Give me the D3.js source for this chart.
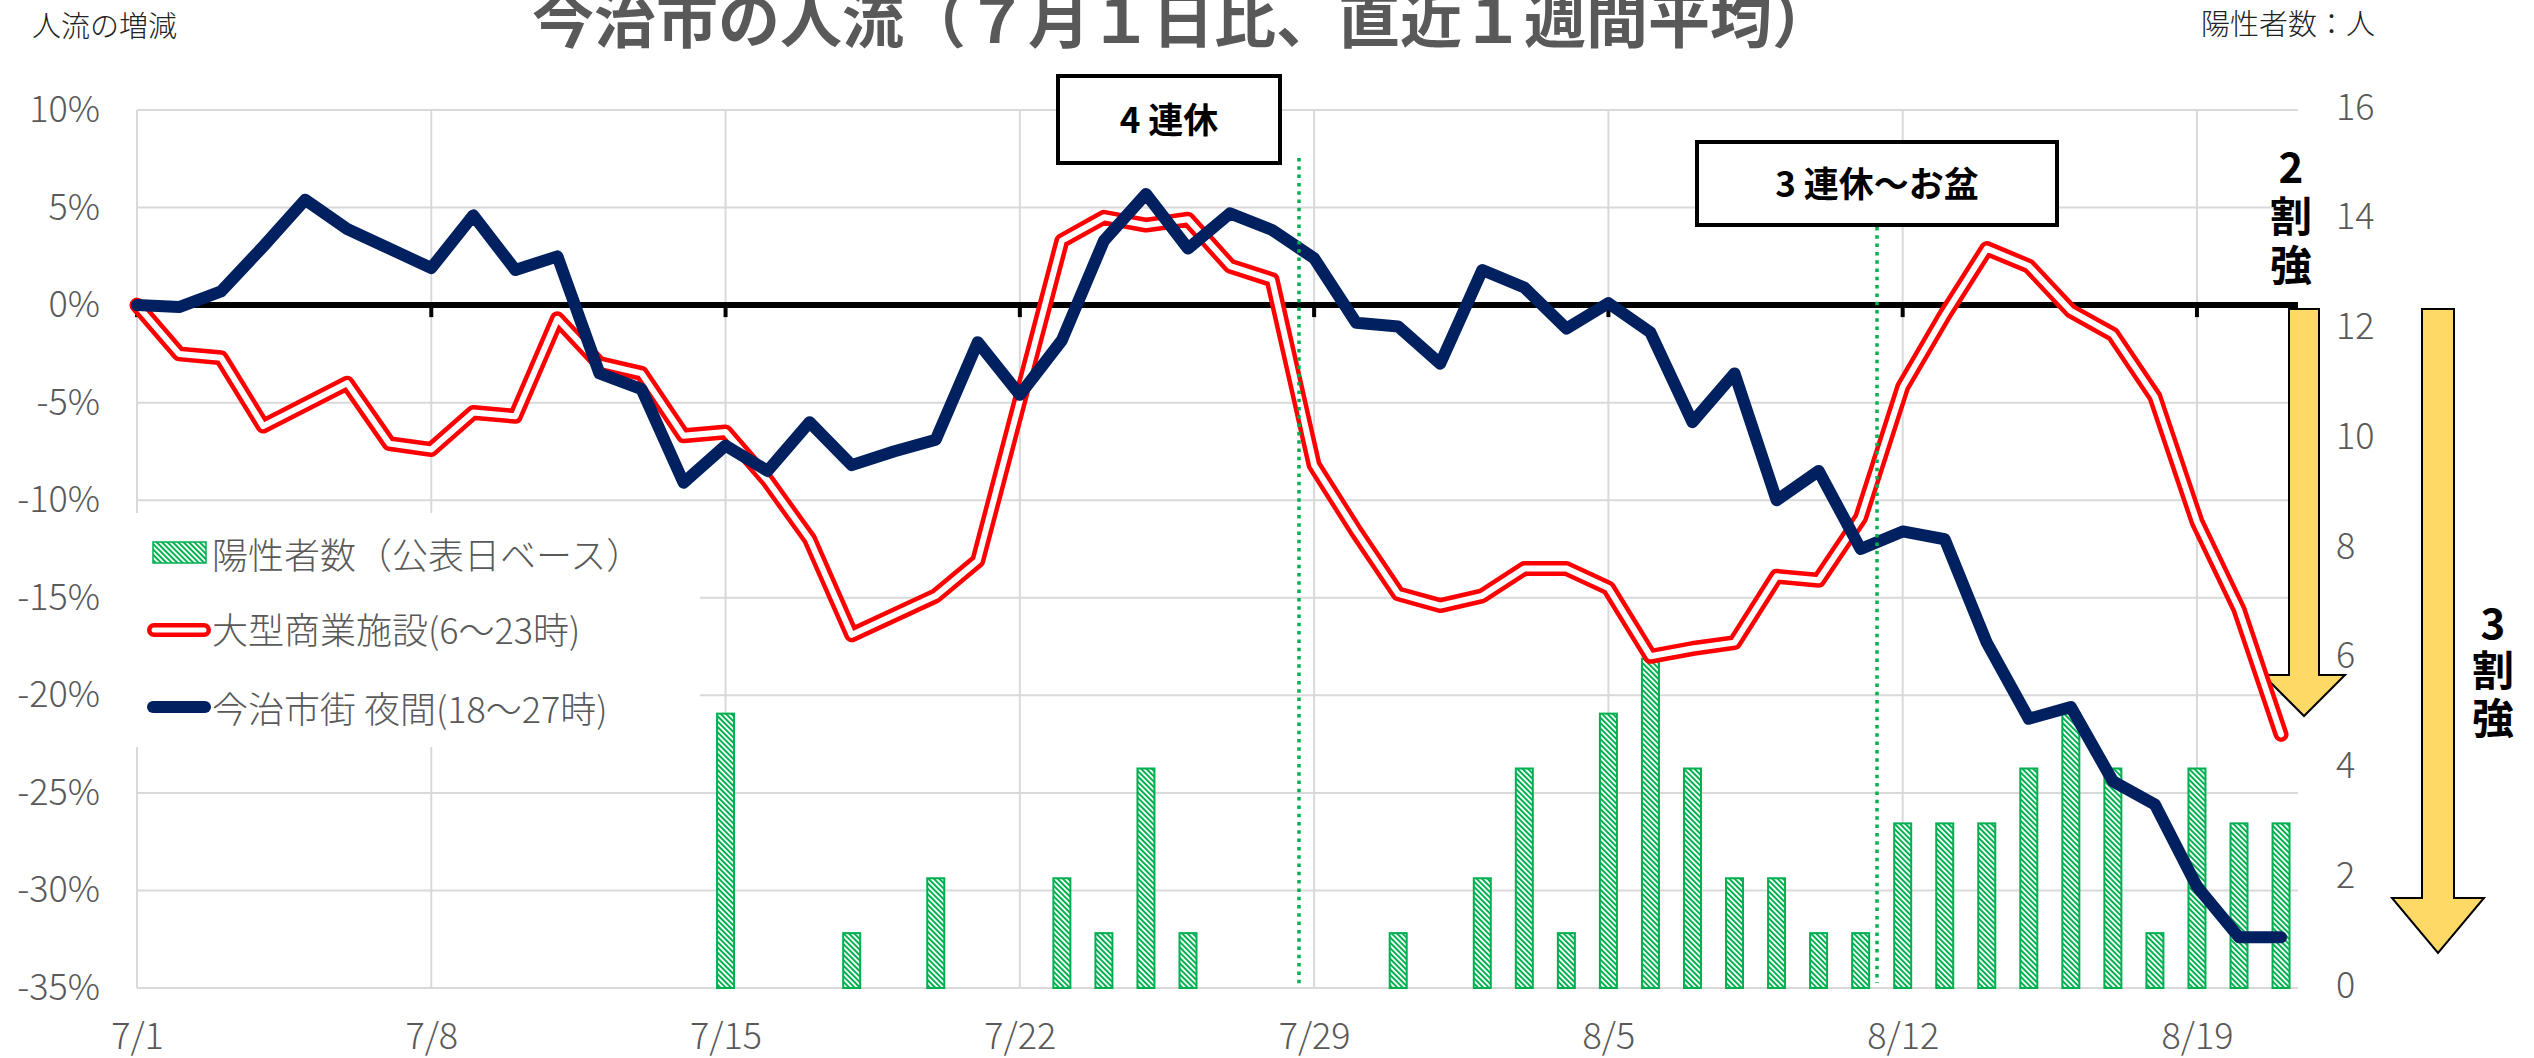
<!DOCTYPE html>
<html>
<head>
<meta charset="utf-8">
<script src="https://cdn.jsdelivr.net/npm/d3@7/dist/d3.min.js"></script>
<style>
  body { margin: 0; background: #fff; }
  svg text { font-family: "Noto Sans CJK JP", "Noto Sans", sans-serif; }
</style>
</head>
<body>
<svg id="chart" width="2534" height="1058"></svg>
<script>
// categories: every day 7/1 .. 8/21
var dates = ["7/1","7/2","7/3","7/4","7/5","7/6","7/7","7/8","7/9","7/10",
  "7/11","7/12","7/13","7/14","7/15","7/16","7/17","7/18","7/19","7/20",
  "7/21","7/22","7/23","7/24","7/25","7/26","7/27","7/28","7/29","7/30",
  "7/31","8/1","8/2","8/3","8/4","8/5","8/6","8/7","8/8","8/9",
  "8/10","8/11","8/12","8/13","8/14","8/15","8/16","8/17","8/18","8/19",
  "8/20","8/21"];
var xTickLabels = ["7/1","7/8","7/15","7/22","7/29","8/5","8/12","8/19"];
var leftTicks = [10,5,0,-5,-10,-15,-20,-25,-30,-35];
var rightTicks = [0,2,4,6,8,10,12,14,16];

// 陽性者数 (people, right axis)
var positives = [0,0,0,0,0,0,0,0,0,0,
  0,0,0,0,5,0,0,1,0,2,
  0,0,2,1,4,1,0,0,0,0,
  1,0,2,4,1,5,6,4,2,2,
  1,1,3,3,3,4,5,4,1,4,
  3,3];
// 大型商業施設 (% vs 7/1)
var shopping = [0,-2.5,-2.7,-6.2,-5.1,-4.0,-7.1,-7.4,-5.5,-5.7,
  -0.7,-3.0,-3.5,-6.7,-6.5,-9.0,-12.0,-16.9,-15.9,-14.9,
  -13.1,-4.9,3.3,4.5,4.1,4.4,2.0,1.3,-8.2,-11.6,
  -14.8,-15.4,-14.9,-13.5,-13.5,-14.5,-18.0,-17.6,-17.3,-13.9,
  -14.1,-10.9,-4.2,-0.5,2.9,2.0,-0.3,-1.5,-4.7,-11.1,
  -15.6,-22.0];
// 今治市街 夜間 (% vs 7/1)
var nightlife = [0,-0.1,0.7,3.0,5.4,3.9,2.9,1.9,4.6,1.8,
  2.5,-3.5,-4.3,-9.1,-7.2,-8.5,-6.0,-8.2,-7.5,-6.9,
  -1.9,-4.6,-1.8,3.3,5.7,2.9,4.7,3.85,2.4,-0.9,
  -1.1,-3.0,1.8,0.9,-1.2,0.1,-1.4,-6.0,-3.5,-10.0,
  -8.5,-12.5,-11.6,-12.0,-17.3,-21.2,-20.6,-24.4,-25.6,-29.8,
  -32.4,-32.4];
var seriesNames = ["陽性者数（公表日ベース）","大型商業施設(6～23時)","今治市街 夜間(18～27時)"];

(function(){
  var svg = d3.select("#chart");
  var pLeft = 137, pRight = 2298, pTop = 110, pBottom = 988;
  var gray = "#595959", green = "#00b050", red = "#ff0000", navy = "#002060", gold = "#ffd966";

  var x = d3.scalePoint().domain(dates).range([pLeft, pLeft + 42.04 * (dates.length - 1)]);
  var yL = d3.scaleLinear().domain([-35, 10]).range([pBottom, pTop]);
  var yR = d3.scaleLinear().domain([0, 16]).range([pBottom, pTop]);

  // hatch pattern for bars
  var defs = svg.append("defs");
  var pat = defs.append("pattern").attr("id", "hatch").attr("patternUnits", "userSpaceOnUse")
    .attr("width", 3.8).attr("height", 3.8).attr("patternTransform", "rotate(-45)");
  pat.append("rect").attr("width", 3.8).attr("height", 3.8).attr("fill", "#fff");
  pat.append("rect").attr("width", 2).attr("height", 3.8).attr("fill", green);

  // gridlines
  var grid = svg.append("g");
  grid.selectAll("line.h").data(leftTicks).enter().append("line").attr("class", "h")
    .attr("x1", pLeft).attr("x2", pRight).attr("y1", function(d){ return yL(d); }).attr("y2", function(d){ return yL(d); })
    .attr("stroke", "#d9d9d9").attr("stroke-width", 2);
  grid.selectAll("line.v").data(xTickLabels).enter().append("line").attr("class", "v")
    .attr("x1", function(d){ return x(d); }).attr("x2", function(d){ return x(d); })
    .attr("y1", pTop).attr("y2", pBottom).attr("stroke", "#d9d9d9").attr("stroke-width", 2);

  // legend background hides grid
  svg.append("rect").attr("x", 128).attr("y", 513).attr("width", 572).attr("height", 234).attr("fill", "#fff");

  // bars
  var barData = dates.map(function(d, i){ return {date: d, v: positives[i]}; }).filter(function(d){ return d.v > 0; });
  svg.append("g").selectAll("rect").data(barData).enter().append("rect")
    .attr("x", function(d){ return x(d.date) - 8.5; }).attr("width", 17)
    .attr("y", function(d){ return yR(d.v); }).attr("height", function(d){ return yR(0) - yR(d.v); })
    .attr("fill", "url(#hatch)").attr("stroke", green).attr("stroke-width", 2);

  // yellow arrows
  function arrow(cx, shaftW, headW, yTop, yHead, yTip) {
    var s = shaftW / 2, h = headW / 2;
    return [[cx - s, yTop], [cx + s, yTop], [cx + s, yHead], [cx + h, yHead], [cx, yTip],
      [cx - h, yHead], [cx - s, yHead]];
  }
  svg.append("polygon").attr("points", arrow(2304, 30, 82, 309, 675, 716).join(" "))
    .attr("fill", gold).attr("stroke", "#000").attr("stroke-width", 2);
  svg.append("polygon").attr("points", arrow(2438, 32, 92, 309, 898, 953).join(" "))
    .attr("fill", gold).attr("stroke", "#000").attr("stroke-width", 2);

  // zero line with ticks
  svg.append("line").attr("x1", pLeft).attr("x2", pRight).attr("y1", yL(0)).attr("y2", yL(0))
    .attr("stroke", "#000").attr("stroke-width", 6);
  svg.append("g").selectAll("line").data(xTickLabels).enter().append("line")
    .attr("x1", function(d){ return x(d); }).attr("x2", function(d){ return x(d); })
    .attr("y1", yL(0)).attr("y2", yL(0) + 12).attr("stroke", "#000").attr("stroke-width", 4);

  // lines
  var lineL = d3.line().x(function(d, i){ return x(dates[i]); }).y(function(d){ return yL(d); });
  svg.append("path").attr("d", lineL(shopping)).attr("fill", "none").attr("stroke", red)
    .attr("stroke-width", 15).attr("stroke-linejoin", "round").attr("stroke-linecap", "round");
  svg.append("path").attr("d", lineL(shopping)).attr("fill", "none").attr("stroke", "#fff")
    .attr("stroke-width", 6).attr("stroke-linejoin", "round").attr("stroke-linecap", "round");
  svg.append("path").attr("d", lineL(nightlife)).attr("fill", "none").attr("stroke", navy)
    .attr("stroke-width", 12).attr("stroke-linejoin", "round").attr("stroke-linecap", "round");

  // dotted markers
  [[1299, 158, 985], [1877, 227, 983]].forEach(function(p){
    svg.append("line").attr("x1", p[0]).attr("x2", p[0]).attr("y1", p[1]).attr("y2", p[2])
      .attr("stroke", green).attr("stroke-width", 3.5).attr("stroke-dasharray", "3.5 4.8");
  });

  // annotation boxes
  [[1058, 76, 222, 87, "4 連休"], [1697, 142, 360, 83, "3 連休～お盆"]].forEach(function(b){
    svg.append("rect").attr("x", b[0]).attr("y", b[1]).attr("width", b[2]).attr("height", b[3])
      .attr("fill", "#fff").attr("stroke", "#000").attr("stroke-width", 4);
    svg.append("text").attr("x", b[0] + b[2] / 2).attr("y", b[1] + b[3] / 2 - 2)
      .attr("text-anchor", "middle").attr("dominant-baseline", "central")
      .attr("font-size", 35).attr("font-weight", "bold").attr("fill", "#000").text(b[4]);
  });

  // vertical labels
  function vtext(cx, ys, chars) {
    chars.forEach(function(c, i){
      svg.append("text").attr("x", cx).attr("y", ys[i]).attr("text-anchor", "middle")
        .attr("dominant-baseline", "central").attr("font-size", 42).attr("font-weight", "bold")
        .attr("fill", "#000").text(c);
    });
  }
  vtext(2291, [164, 213, 262], ["2", "割", "強"]);
  vtext(2493, [620, 667, 715], ["3", "割", "強"]);

  // axes
  var ax = svg.append("g").attr("transform", "translate(100,0)")
    .call(d3.axisLeft(yL).tickValues(leftTicks).tickSize(0).tickPadding(0).tickFormat(function(d){ return d + "%"; }));
  var axR = svg.append("g").attr("transform", "translate(2336,0)")
    .call(d3.axisRight(yR).tickValues(rightTicks).tickSize(0).tickPadding(0));
  var axB = svg.append("g").attr("transform", "translate(0,1036)")
    .call(d3.axisBottom(x).tickValues(xTickLabels).tickSize(0).tickPadding(0));
  [ax, axR, axB].forEach(function(a){
    a.select(".domain").remove();
    a.attr("font-family", null).attr("font-size", null);
    a.selectAll("text").attr("font-size", 36).attr("font-weight", 300).attr("fill", gray);
  });
  axR.selectAll("text").attr("dy", "0.25em");
  axB.selectAll("text").attr("y", 0).attr("dy", "0.35em");

  // titles
  svg.append("text").attr("x", 1183).attr("y", 43).attr("text-anchor", "middle")
    .attr("font-size", 62).attr("font-weight", "bold").attr("fill", gray)
    .text("今治市の人流（７月１日比、直近１週間平均）");
  svg.append("text").attr("x", 32).attr("y", 37).attr("font-size", 29).attr("font-weight", 300)
    .attr("fill", "#222").text("人流の増減");
  svg.append("text").attr("x", 2375).attr("y", 35).attr("text-anchor", "end").attr("font-size", 29)
    .attr("font-weight", 300).attr("fill", "#222").text("陽性者数：人");

  // legend
  var lg = svg.append("g");
  lg.append("rect").attr("x", 153).attr("y", 542).attr("width", 53).attr("height", 21)
    .attr("fill", "url(#hatch)").attr("stroke", green).attr("stroke-width", 1.5);
  lg.append("line").attr("x1", 154).attr("x2", 204).attr("y1", 630).attr("y2", 630)
    .attr("stroke", red).attr("stroke-width", 14).attr("stroke-linecap", "round");
  lg.append("line").attr("x1", 154).attr("x2", 204).attr("y1", 630).attr("y2", 630)
    .attr("stroke", "#fff").attr("stroke-width", 5).attr("stroke-linecap", "round");
  lg.append("line").attr("x1", 153).attr("x2", 205).attr("y1", 707).attr("y2", 707)
    .attr("stroke", navy).attr("stroke-width", 12).attr("stroke-linecap", "round");
  lg.selectAll("text").data(seriesNames).enter().append("text")
    .attr("x", 212).attr("y", function(d, i){ return [553, 628, 707][i]; })
    .attr("dominant-baseline", "central").attr("font-size", 36).attr("font-weight", 300)
    .attr("fill", gray).text(function(d){ return d; });
})();
</script>
</body>
</html>
